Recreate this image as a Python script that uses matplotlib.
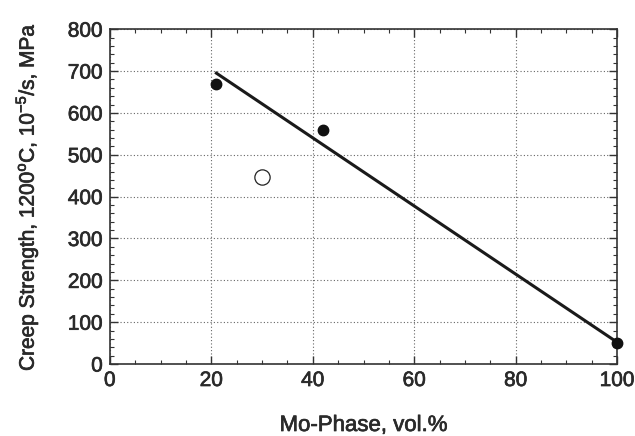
import matplotlib
matplotlib.use("Agg")
import matplotlib.pyplot as plt
import matplotlib.patheffects as pe
from matplotlib.ticker import MultipleLocator

# Data
filled_x = [21, 42, 100]
filled_y = [670, 560, 50]
open_x = [30]
open_y = [447]
fit_x = [21, 100]
fit_y = [695, 52]

xticks = [0, 20, 40, 60, 80, 100]
yticks = [0, 100, 200, 300, 400, 500, 600, 700, 800]

plt.rcParams['font.family'] = ['Liberation Sans', 'DejaVu Sans']
plt.rcParams['mathtext.fontset'] = 'custom'
plt.rcParams['mathtext.rm'] = 'Liberation Sans'
txt = '#2a2a2a'
bold = [pe.withStroke(linewidth=0.5, foreground=txt)]

fig = plt.figure(figsize=(6.35, 4.36), dpi=100)
ax = fig.add_axes([0.173, 0.165, 0.799, 0.768])

ax.plot(fit_x, fit_y, color='#1a1a1a', lw=2.2, zorder=3)
ax.plot(filled_x, filled_y, 'o', color='#111111', ms=7.5, zorder=4, clip_on=False)
ax.plot(open_x, open_y, 'o', mfc='white', mec='#222222', mew=0.9, ms=11, zorder=4)

ax.set_xlim(0, 100)
ax.set_ylim(0, 800)
ax.set_xticks(xticks)
ax.set_yticks(yticks)
ax.xaxis.set_minor_locator(MultipleLocator(5))
ax.yaxis.set_minor_locator(MultipleLocator(20))
ax.tick_params(which='both', direction='in', top=True, right=True, colors='#333333')
ax.tick_params(which='major', length=6, width=1, labelsize=15, labelcolor=txt, pad=5)
ax.tick_params(which='minor', length=3, width=0.8)
ax.grid(True, which='major', linestyle=(0, (1, 2)), color='#666666', lw=0.8)
for s in ax.spines.values():
    s.set_color('#333333')
    s.set_linewidth(1.2)
for lab in ax.get_xticklabels() + ax.get_yticklabels():
    lab.set_path_effects(bold)

xl = ax.set_xlabel('Mo-Phase, vol.%', fontsize=16, color=txt, labelpad=18)
yl = ax.set_ylabel('Creep Strength, 1200$^{\\mathrm{o}}$C, 10$^{-5}$/s, MPa', fontsize=15, color=txt, labelpad=20)
xl.set_path_effects(bold)
yl.set_path_effects(bold)

fig.savefig('out.png', dpi=100)
